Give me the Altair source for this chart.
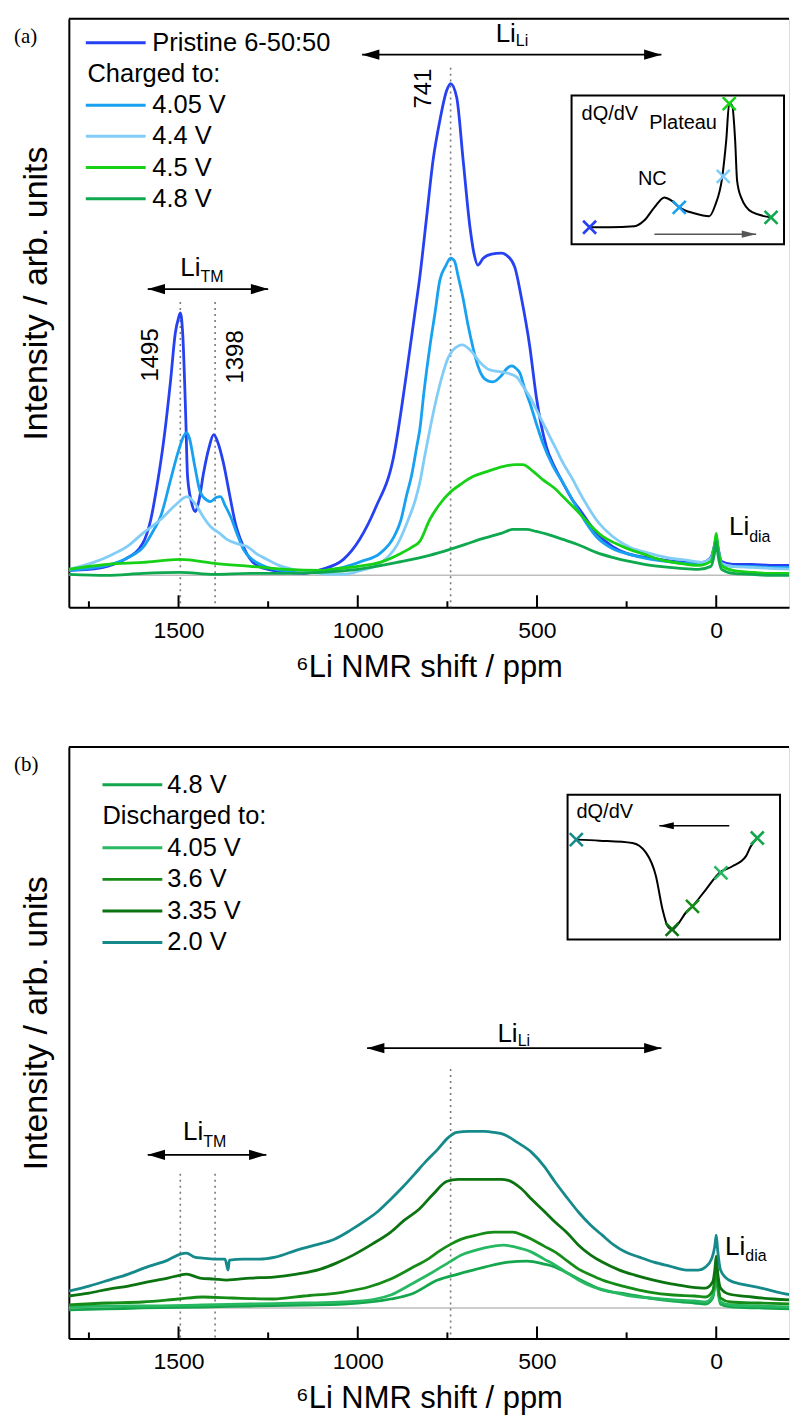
import altair as alt
import pandas as pd

FONT = "Liberation Sans"

# ---------------- data ----------------
# Panel (a): pristine and charged samples (ppm, intensity in arb. units)
a_pristine_ppm = [1806, 1750, 1700, 1650, 1600, 1578, 1560, 1541, 1522, 1509, 1500, 1495, 1488, 1480, 1475, 1465, 1453, 1443, 1430, 1415, 1402, 1390, 1375, 1355, 1340, 1327, 1310, 1295, 1270, 1250, 1200, 1150, 1100, 1040, 995, 950, 900, 865, 840, 827, 808, 790, 771, 752, 741, 724, 706, 687, 676, 665, 650, 627, 600, 585, 562, 544, 520, 502, 474, 450, 428, 400, 381, 335, 290, 250, 196, 140, 80, 40, 15, 5, 0, -5, -15, -46, -100, -150, -225]
a_pristine_int = [5, 6, 9, 16, 32, 55, 90, 136, 196, 243, 258, 263, 240, 160, 100, 75, 64, 75, 103, 128, 141, 133, 113, 76, 50, 36, 22, 14, 8, 6, 3, 2, 6, 16, 36, 68, 119, 200, 265, 299, 359, 416, 456, 486, 493, 479, 416, 349, 323, 311, 318, 322, 323, 321, 309, 279, 229, 179, 129, 108, 93, 75, 66, 43, 29, 22, 18, 15, 13, 13, 18, 30, 38, 28, 14, 11, 11, 10, 10]

a_405_ppm = [1806, 1750, 1690, 1640, 1597, 1570, 1550, 1522, 1500, 1485, 1478, 1470, 1455, 1439, 1420, 1411, 1395, 1383, 1370, 1355, 1335, 1319, 1295, 1272, 1230, 1180, 1130, 1080, 1040, 990, 938, 900, 880, 864, 850, 835, 827, 815, 799, 785, 771, 755, 741, 730, 720, 707, 693, 679, 665, 651, 637, 623, 600, 585, 570, 557, 548, 535, 520, 500, 484, 456, 428, 400, 381, 335, 290, 242, 196, 140, 80, 40, 15, 5, 0, -5, -15, -46, -100, -150, -225]
a_405_int = [5, 7, 11, 18, 29, 45, 59, 96, 125, 140, 143, 138, 110, 83, 75, 74, 78, 79, 70, 59, 40, 26, 16, 11, 6, 4, 3, 5, 8, 14, 22, 38, 55, 80, 100, 130, 146, 185, 229, 262, 296, 310, 318, 315, 300, 279, 252, 229, 210, 199, 195, 194, 200, 207, 210, 207, 203, 188, 173, 150, 133, 110, 93, 75, 63, 39, 27, 21, 17, 14, 12, 12, 16, 28, 36, 26, 12, 9, 9, 8, 8]

a_44_ppm = [1806, 1737, 1690, 1643, 1600, 1550, 1510, 1476, 1450, 1430, 1411, 1385, 1365, 1330, 1309, 1280, 1253, 1220, 1180, 1130, 1080, 1040, 990, 938, 891, 860, 840, 827, 813, 799, 780, 762, 748, 734, 720, 707, 693, 679, 660, 632, 600, 585, 557, 540, 520, 500, 474, 450, 428, 400, 381, 360, 335, 289, 240, 196, 140, 80, 40, 15, 5, 0, -5, -15, -46, -100, -150, -225]
a_44_int = [6, 13, 20, 29, 42, 56, 70, 79, 70, 58, 49, 42, 36, 31, 29, 21, 16, 10, 6, 3, 1, 1, 5, 12, 30, 55, 75, 93, 120, 146, 178, 203, 218, 226, 230, 231, 228, 223, 214, 206, 204, 203, 199, 190, 179, 165, 146, 129, 113, 96, 83, 70, 56, 39, 28, 23, 18, 15, 13, 17, 28, 36, 26, 12, 9, 8, 7, 6]

a_45_ppm = [1806, 1750, 1700, 1600, 1495, 1400, 1300, 1200, 1100, 1077, 1000, 938, 880, 850, 827, 799, 770, 743, 710, 679, 640, 596, 560, 540, 510, 484, 450, 428, 400, 373, 345, 317, 280, 242, 200, 159, 100, 50, 15, 5, 0, -5, -15, -46, -100, -150, -225]
a_45_int = [6, 9, 11, 13, 16, 12, 9, 6, 5, 6, 9, 13, 22, 28, 34, 56, 72, 83, 92, 99, 104, 109, 111, 111, 104, 96, 87, 79, 69, 59, 48, 39, 32, 26, 21, 16, 12, 10, 14, 30, 42, 28, 10, 5, 3, 2, 2]

a_48_ppm = [1806, 1700, 1600, 1495, 1400, 1300, 1200, 1100, 1000, 891, 800, 743, 700, 660, 600, 567, 530, 502, 470, 428, 380, 335, 290, 242, 200, 159, 100, 50, 15, 5, 0, -5, -15, -46, -100, -150, -225]
a_48_int = [1, 0, 2, 3, 1, 2, 2, 3, 6, 13, 20, 26, 31, 36, 42, 46, 46, 44, 41, 36, 30, 23, 18, 14, 11, 9, 7, 6, 9, 22, 34, 20, 6, 2, 1, 0, 0]

a_names = ["Pristine 6-50:50", "4.05 V", "4.4 V", "4.5 V", "4.8 V"]
a_colors = ["#2541f2", "#17a1f0", "#82cdf7", "#16d116", "#0ea84e"]

# Panel (b): 4.8 V and discharged samples
b_48_ppm = [1806, 1700, 1600, 1432, 1300, 1150, 1039, 908, 850, 777, 720, 646, 580, 528, 480, 449, 415, 384, 350, 318, 250, 187, 120, 60, 30, 10, 4, 0, -4, -12, -40, -120, -225]
b_48_int = [-2, -1, 0, 1, 2, 3, 4, 9, 14, 28, 34, 41, 46, 47, 44, 41, 35, 29, 23, 18, 14, 10, 7, 5, 4, 10, 22, 36, 20, 4, 1, 0, -1]

b_405_ppm = [1806, 1700, 1600, 1432, 1300, 1150, 1039, 950, 908, 850, 800, 777, 740, 711, 670, 620, 593, 560, 515, 480, 449, 415, 384, 350, 300, 253, 187, 120, 60, 30, 10, 4, 0, -4, -12, -40, -120, -225]
b_405_int = [1, 2, 2, 3, 4, 5, 6, 9, 13, 24, 34, 39, 47, 53, 58, 62, 63, 61, 56, 49, 43, 35, 28, 22, 17, 13, 10, 8, 7, 6, 12, 25, 40, 24, 6, 3, 2, 1]

b_36_ppm = [1806, 1700, 1600, 1500, 1432, 1350, 1235, 1150, 1039, 970, 908, 850, 800, 777, 740, 711, 670, 620, 567, 540, 515, 480, 449, 415, 384, 350, 318, 250, 187, 120, 60, 30, 10, 4, 0, -4, -12, -40, -120, -225]
b_36_int = [3, 5, 6, 9, 11, 10, 9, 12, 16, 21, 29, 40, 50, 56, 64, 69, 73, 76, 76, 73, 69, 62, 56, 47, 39, 33, 28, 21, 16, 13, 12, 11, 17, 30, 45, 28, 10, 6, 5, 4]

b_335_ppm = [1806, 1750, 1694, 1640, 1589, 1530, 1495, 1478, 1440, 1400, 1366, 1300, 1235, 1170, 1104, 1060, 1013, 960, 908, 870, 829, 790, 751, 720, 698, 650, 600, 580, 545, 515, 480, 449, 415, 384, 350, 318, 270, 227, 175, 122, 70, 30, 10, 4, 0, -4, -12, -35, -100, -160, -225]
b_335_int = [12, 15, 19, 22, 26, 30, 33, 34, 30, 29, 28, 30, 31, 34, 39, 45, 53, 64, 76, 88, 99, 114, 127, 129, 129, 129, 129, 128, 120, 109, 97, 86, 75, 63, 53, 46, 38, 33, 28, 24, 21, 20, 26, 38, 52, 36, 20, 14, 11, 9, 8]

b_20_ppm = [1806, 1750, 1694, 1640, 1589, 1530, 1495, 1478, 1455, 1432, 1400, 1370, 1362, 1358, 1320, 1275, 1230, 1170, 1120, 1065, 1020, 973, 940, 908, 875, 842, 810, 777, 750, 724, 690, 646, 620, 593, 555, 515, 480, 449, 415, 384, 350, 318, 285, 253, 215, 174, 130, 83, 50, 30, 12, 4, 0, -4, -12, -35, -70, -114, -170, -225]
b_20_int = [17, 22, 28, 34, 41, 48, 54, 55, 51, 50, 49, 49, 38, 48, 49, 49, 51, 58, 63, 69, 78, 89, 98, 109, 121, 134, 147, 159, 170, 176, 177, 177, 176, 174, 166, 156, 142, 126, 110, 96, 83, 73, 63, 56, 51, 46, 42, 38, 38, 41, 50, 62, 73, 58, 38, 28, 24, 21, 16, 12]

b_names = ["4.8 V", "4.05 V", "3.6 V", "3.35 V", "2.0 V"]
b_colors = ["#13a64d", "#27b862", "#168c18", "#0b730f", "#168a8a"]

# dQ/dV sketches (inset units 0..100)
ins_a_x = [8.5, 17.8, 29.6, 34.3, 39.0, 43.7, 46.9, 50.7, 57.7, 64.8, 67.6, 70.9, 72.8, 74.2, 75.6, 77.0, 77.9, 79.8, 85.0, 93.9]
ins_a_y = [11.4, 11.4, 12.1, 16.1, 24.8, 31.5, 29.5, 24.8, 20.8, 18.8, 26.2, 45.0, 69.8, 94.6, 93.3, 69.8, 43.0, 31.5, 21.5, 18.1]
ins_a_mark_x = [8.5, 50.7, 71.4, 74.2, 93.9]
ins_a_mark_y = [11.4, 24.8, 45.6, 94.6, 18.1]

ins_b_x = [4.1, 15.0, 30.5, 36.9, 41.6, 44.7, 47.1, 49.4, 51.8, 55.7, 58.8, 65.1, 71.4, 77.6, 83.9, 86.2, 89.3]
ins_b_y = [69.0, 68.3, 66.7, 60.0, 43.7, 20.7, 9.2, 6.9, 10.3, 18.6, 23.0, 34.5, 46.0, 50.6, 57.4, 64.3, 70.1]
ins_b_mark_x = [89.3, 72.2, 58.8, 49.2, 4.1]
ins_b_mark_y = [70.1, 46.0, 22.8, 6.9, 69.0]

major_ticks = [1500, 1000, 500, 0]
minor_ticks = [1750, 1250, 750, 250]
peak_ppm = [1495, 1398, 741]

# ---------------- layout ----------------
W = 722
HA, HB = 590, 593
X_DOMAIN = [1806, -203]
Y_DOM_A = [-32, 558]
Y_DOM_B = [-30.5, 562.5]

HEAD_L = "M 0 0 L 2 -0.6 L 2 0.6 Z"
HEAD_R = "M 0 0 L -2 -0.6 L -2 0.6 Z"
HEAD_L_S = "M 0 0 L 2 -0.5 L 2 0.5 Z"
HEAD_R_S = "M 0 0 L -2 -0.5 L -2 0.5 Z"


def xs():
    return alt.Scale(domain=X_DOMAIN, nice=False, zero=False)


def ys(dom):
    return alt.Scale(domain=dom, nice=False, zero=False)


def main_layers(names, colors, series, ydom, H, dot_tops, tm_arrow, li_arrow, labels, peak_labels):
    rows = []
    for k, (nm, col, (p, v)) in enumerate(zip(names, colors, series)):
        for pp, vv in zip(p, v):
            rows.append({"ppm": pp, "I": vv, "series": nm, "color": col, "k": k})
    df = pd.DataFrame(rows)
    x_axis = alt.Axis(values=major_ticks, ticks=False, grid=False, domain=True,
                      domainColor="black", domainWidth=2, labelFont=FONT,
                      labelFontSize=23, labelColor="black", labelPadding=12,
                      format="d", title="\u2076Li NMR shift / ppm", titleFont=FONT,
                      titleFontSize=31, titleFontWeight="normal", titleColor="black",
                      titlePadding=10)
    y_axis = alt.Axis(labels=False, ticks=False, grid=False, domain=True,
                      domainColor="black", domainWidth=2,
                      title="Intensity / arb. units", titleFont=FONT, titleFontSize=34,
                      titleFontWeight="normal", titleColor="black", titlePadding=15,
                      titleY=H / 2 - 20)
    layers = []
    layers.append(alt.Chart(pd.DataFrame({"ppm": [X_DOMAIN[0]], "I": [0]})).mark_point(opacity=0).encode(
        x=alt.X("ppm:Q", scale=xs(), axis=x_axis),
        y=alt.Y("I:Q", scale=ys(ydom), axis=y_axis)))
    layers.append(alt.Chart(pd.DataFrame({"I": [0]})).mark_rule(color="#bdbdbd", strokeWidth=1.5).encode(
        y=alt.Y("I:Q", scale=ys(ydom), axis=None)))
    layers.append(alt.Chart(pd.DataFrame({"ppm": peak_ppm, "top": dot_tops})).mark_rule(
        color="#7a7a7a", strokeDash=[2, 4], strokeWidth=1.6).encode(
        x=alt.X("ppm:Q", scale=xs(), axis=None),
        y=alt.Y("top:Q", scale=ys(ydom), axis=None),
        y2=alt.value(H)))
    for k in range(len(names)):
        sub = df[df.k == k]
        layers.append(alt.Chart(sub).mark_line(strokeWidth=2.8, interpolate="monotone", clip=True).encode(
            x=alt.X("ppm:Q", scale=xs(), axis=None),
            y=alt.Y("I:Q", scale=ys(ydom), axis=None),
            color=alt.Color("color:N", scale=None),
            detail="series:N"))
    for vals, L in ((major_ticks, 12), (minor_ticks, 6)):
        layers.append(alt.Chart(pd.DataFrame({"ppm": vals})).mark_rule(color="black", strokeWidth=2).encode(
            x=alt.X("ppm:Q", scale=xs(), axis=None), y=alt.value(H), y2=alt.value(H - L)))
    arr = pd.DataFrame({"x1": [tm_arrow[0], li_arrow[0]], "x2": [tm_arrow[1], li_arrow[1]],
                        "y": [tm_arrow[2], li_arrow[2]]})
    layers.append(alt.Chart(arr).mark_rule(color="black", strokeWidth=1.8).encode(
        x=alt.X("x1:Q", scale=xs(), axis=None), x2="x2:Q",
        y=alt.Y("y:Q", scale=ys(ydom), axis=None)))
    layers.append(alt.Chart(arr).mark_point(shape=HEAD_L, filled=True, color="black", size=300, opacity=1).encode(
        x=alt.X("x1:Q", scale=xs(), axis=None), y=alt.Y("y:Q", scale=ys(ydom), axis=None)))
    layers.append(alt.Chart(arr).mark_point(shape=HEAD_R, filled=True, color="black", size=300, opacity=1).encode(
        x=alt.X("x2:Q", scale=xs(), axis=None), y=alt.Y("y:Q", scale=ys(ydom), axis=None)))
    lab = pd.DataFrame(labels, columns=["ppm", "I", "Isub", "sub"])
    layers.append(alt.Chart(lab).mark_text(text="Li", align="right", baseline="middle", font=FONT,
                                           fontSize=26, color="black").encode(
        x=alt.X("ppm:Q", scale=xs(), axis=None), y=alt.Y("I:Q", scale=ys(ydom), axis=None)))
    layers.append(alt.Chart(lab).mark_text(align="left", baseline="middle", font=FONT,
                                           fontSize=16, color="black").encode(
        x=alt.X("ppm:Q", scale=xs(), axis=None), y=alt.Y("Isub:Q", scale=ys(ydom), axis=None),
        text="sub:N"))
    if peak_labels is not None:
        pl = pd.DataFrame(peak_labels, columns=["ppm", "I", "txt"])
        layers.append(alt.Chart(pl).mark_text(angle=270, align="center", baseline="middle", font=FONT,
                                              fontSize=24, color="black").encode(
            x=alt.X("ppm:Q", scale=xs(), axis=None), y=alt.Y("I:Q", scale=ys(ydom), axis=None),
            text="txt:N"))
    return layers


def inset_group(box_px, H, cx, cy, mx, my, mcolors, arrow, arrow_color, head, texts):
    l, r, t, b = box_px
    sx = 100.0 / (r - l)
    sy = 100.0 / (b - t)
    xdom = [-l * sx, 100 + (W - r) * sx]
    ydom = [-(H - b) * sy, 100 + t * sy]
    X = lambda f: alt.X(f, scale=alt.Scale(domain=xdom, nice=False, zero=False), axis=None)
    Y = lambda f: alt.Y(f, scale=alt.Scale(domain=ydom, nice=False, zero=False), axis=None)
    layers = []
    layers.append(alt.Chart(pd.DataFrame({"a": [0], "b": [100]})).mark_rect(
        fill="white", stroke="black", strokeWidth=2).encode(
        x=X("a:Q"), x2="b:Q", y=Y("a:Q"), y2="b:Q"))
    layers.append(alt.Chart(pd.DataFrame({"u": cx, "v": cy})).mark_line(
        color="black", strokeWidth=2, interpolate="monotone").encode(x=X("u:Q"), y=Y("v:Q")))
    ad = pd.DataFrame({"x1": [arrow[0]], "x2": [arrow[1]], "y": [arrow[2]]})
    layers.append(alt.Chart(ad).mark_rule(color=arrow_color, strokeWidth=1.6).encode(
        x=X("x1:Q"), x2="x2:Q", y=Y("y:Q")))
    layers.append(alt.Chart(ad).mark_point(shape=head, filled=True, color=arrow_color, size=210, opacity=1).encode(
        x=X("x2:Q"), y=Y("y:Q")))
    layers.append(alt.Chart(pd.DataFrame({"u": mx, "v": my, "c": mcolors})).mark_point(
        shape="M -1 -1 L 1 1 M -1 1 L 1 -1", filled=False, strokeWidth=2.6, size=170, opacity=1).encode(
        x=X("u:Q"), y=Y("v:Q"), stroke=alt.Stroke("c:N", scale=None)))
    td = pd.DataFrame(texts, columns=["u", "v", "txt", "al"])
    for al in td.al.unique():
        layers.append(alt.Chart(td[td.al == al]).mark_text(
            align=al, baseline="middle", font=FONT, fontSize=20, color="black").encode(
            x=X("u:Q"), y=Y("v:Q"), text="txt:N"))
    return alt.layer(*layers)


def overlay_group(H, tag, legend_rows, y0, dy, line_x, text_x, head_x):
    X = lambda f: alt.X(f, scale=alt.Scale(domain=[0, W], nice=False, zero=False), axis=None)
    Y = lambda f: alt.Y(f, scale=alt.Scale(domain=[0, H], nice=False, zero=False, reverse=True), axis=None)
    rows = []
    for i, (txt, col) in enumerate(legend_rows):
        rows.append({"txt": txt, "col": col if col else "none", "y": y0 + i * dy,
                     "x0": line_x[0], "x1": line_x[1],
                     "tx": text_x if col else head_x, "has": bool(col)})
    ld = pd.DataFrame(rows)
    layers = []
    layers.append(alt.Chart(ld[ld.has]).mark_rule(strokeWidth=3).encode(
        x=X("x0:Q"), x2="x1:Q", y=Y("y:Q"), color=alt.Color("col:N", scale=None)))
    layers.append(alt.Chart(ld).mark_text(align="left", baseline="middle", font=FONT, fontSize=25.5,
                                          color="black").encode(
        x=X("tx:Q"), y=Y("y:Q"), text="txt:N"))
    layers.append(alt.Chart(pd.DataFrame({"t": [tag]})).mark_text(
        align="left", baseline="middle", font="Liberation Serif", fontSize=21, color="black").encode(
        x=alt.value(-55), y=alt.value(18), text="t:N"))
    layers.append(alt.Chart(pd.DataFrame({"t": [0]})).mark_rule(color="black", strokeWidth=2).encode(
        x=alt.value(0), x2=alt.value(W), y=alt.value(0)))
    return alt.layer(*layers)


# ---------- panel (a)
main_a = main_layers(
    a_names, a_colors,
    [(a_pristine_ppm, a_pristine_int), (a_405_ppm, a_405_int), (a_44_ppm, a_44_int),
     (a_45_ppm, a_45_int), (a_48_ppm, a_48_int)],
    Y_DOM_A, HA, dot_tops=[274, 274, 509],
    tm_arrow=(1586, 1250, 287), li_arrow=(988, 153, 522),
    labels=[(1439, 308, 299, "TM"), (559, 543, 536, "Li"), (-92, 48, 38, "dia")],
    peak_labels=[(1578, 221, "1495"), (1341, 219, "1398"), (815, 488, "741")])
inset_a = inset_group((504, 717, 77, 226), HA, ins_a_x, ins_a_y, ins_a_mark_x, ins_a_mark_y, a_colors,
                      (39.0, 86.9, 6.7), "#555555", HEAD_R_S,
                      [(4.7, 87.9, "dQ/dV", "left"), (36.6, 81.2, "Plateau", "left"), (38.0, 43.6, "NC", "center")])
over_a = overlay_group(HA, "(a)",
                       [("Pristine 6-50:50", a_colors[0]), ("Charged to:", None), ("4.05 V", a_colors[1]),
                        ("4.4 V", a_colors[2]), ("4.5 V", a_colors[3]), ("4.8 V", a_colors[4])],
                       24, 31.3, (17, 77), 83.7, 18.7)
panel_a = alt.layer(*main_a, inset_a, over_a).resolve_scale(x="independent", y="independent").properties(
    width=W, height=HA)

# ---------- panel (b)
main_b = main_layers(
    b_names, b_colors,
    [(b_48_ppm, b_48_int), (b_405_ppm, b_405_int), (b_36_ppm, b_36_int),
     (b_335_ppm, b_335_int), (b_20_ppm, b_20_int)],
    Y_DOM_B, HB, dot_tops=[134.5, 134.5, 239.5],
    tm_arrow=(1586, 1255, 153.5), li_arrow=(974, 153, 260.5),
    labels=[(1431, 176.5, 166.5, "TM"), (554, 274.5, 268, "Li"), (-81, 61.5, 52.5, "dia")],
    peak_labels=None)
inset_b = inset_group((500, 713, 48, 193), HB, ins_b_x, ins_b_y, ins_b_mark_x, ins_b_mark_y, b_colors,
                      (76.1, 43.2, 78.6), "black", HEAD_L_S,
                      [(4.2, 88.3, "dQ/dV", "left")])
over_b = overlay_group(HB, "(b)",
                       [("4.8 V", b_colors[0]), ("Discharged to:", None), ("4.05 V", b_colors[1]),
                        ("3.6 V", b_colors[2]), ("3.35 V", b_colors[3]), ("2.0 V", b_colors[4])],
                       38, 31.6, (33.7, 93.7), 98.7, 33.7)
panel_b = alt.layer(*main_b, inset_b, over_b).resolve_scale(x="independent", y="independent").properties(
    width=W, height=HB)

chart = alt.vconcat(panel_a, panel_b, spacing=62).properties(
    padding={"left": 5, "top": 7, "right": 0, "bottom": 0}
).configure_view(stroke=None).configure(font=FONT)

chart.save("out.html", embed_options={"renderer": "svg", "actions": False})
